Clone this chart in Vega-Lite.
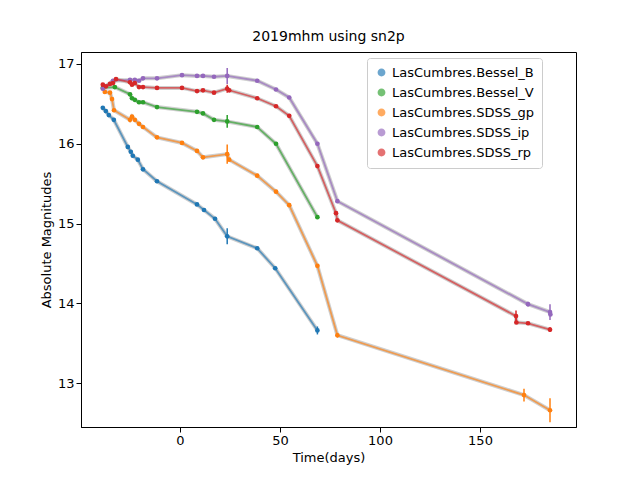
{
  "$schema": "https://vega.github.io/schema/vega-lite/v6.json",
  "width": 495,
  "height": 375,
  "autosize": {"type": "none"},
  "padding": {"left": 81, "top": 52, "right": 64, "bottom": 53},
  "background": "white",
  "title": {"text": "2019mhm using sn2p", "font": "DejaVu Sans", "fontSize": 14, "fontWeight": "normal", "offset": 8},
  "config": {
    "view": {"stroke": "black", "strokeWidth": 1},
    "axis": {"grid": false, "labelFont": "DejaVu Sans", "titleFont": "DejaVu Sans", "labelFontSize": 13, "titleFontSize": 13, "titleFontWeight": "normal", "domainColor": "black", "tickColor": "black", "labelColor": "black", "tickSize": 5}
  },
  "data": {"values": [
    {"f": "LasCumbres.Bessel_B", "t": -38.6, "m": 16.45, "e": 0},
    {"f": "LasCumbres.Bessel_B", "t": -37.1, "m": 16.41, "e": 0},
    {"f": "LasCumbres.Bessel_B", "t": -35.6, "m": 16.36, "e": 0},
    {"f": "LasCumbres.Bessel_B", "t": -33.1, "m": 16.3, "e": 0},
    {"f": "LasCumbres.Bessel_B", "t": -26.1, "m": 15.96, "e": 0},
    {"f": "LasCumbres.Bessel_B", "t": -24.6, "m": 15.9, "e": 0},
    {"f": "LasCumbres.Bessel_B", "t": -23.6, "m": 15.85, "e": 0},
    {"f": "LasCumbres.Bessel_B", "t": -21.1, "m": 15.8, "e": 0},
    {"f": "LasCumbres.Bessel_B", "t": -18.5, "m": 15.68, "e": 0},
    {"f": "LasCumbres.Bessel_B", "t": -11.5, "m": 15.53, "e": 0},
    {"f": "LasCumbres.Bessel_B", "t": 8.5, "m": 15.24, "e": 0},
    {"f": "LasCumbres.Bessel_B", "t": 12, "m": 15.17, "e": 0},
    {"f": "LasCumbres.Bessel_B", "t": 17.5, "m": 15.06, "e": 0},
    {"f": "LasCumbres.Bessel_B", "t": 23.6, "m": 14.84, "e": 0.1},
    {"f": "LasCumbres.Bessel_B", "t": 38.6, "m": 14.69, "e": 0},
    {"f": "LasCumbres.Bessel_B", "t": 47.6, "m": 14.44, "e": 0},
    {"f": "LasCumbres.Bessel_B", "t": 68.7, "m": 13.66, "e": 0.05},
    {"f": "LasCumbres.Bessel_V", "t": -38.6, "m": 16.7, "e": 0},
    {"f": "LasCumbres.Bessel_V", "t": -32.6, "m": 16.71, "e": 0},
    {"f": "LasCumbres.Bessel_V", "t": -25, "m": 16.62, "e": 0},
    {"f": "LasCumbres.Bessel_V", "t": -24, "m": 16.57, "e": 0},
    {"f": "LasCumbres.Bessel_V", "t": -22.6, "m": 16.55, "e": 0},
    {"f": "LasCumbres.Bessel_V", "t": -20.5, "m": 16.52, "e": 0},
    {"f": "LasCumbres.Bessel_V", "t": -18.5, "m": 16.52, "e": 0},
    {"f": "LasCumbres.Bessel_V", "t": -11.5, "m": 16.46, "e": 0},
    {"f": "LasCumbres.Bessel_V", "t": 8.5, "m": 16.4, "e": 0},
    {"f": "LasCumbres.Bessel_V", "t": 11.5, "m": 16.38, "e": 0},
    {"f": "LasCumbres.Bessel_V", "t": 17, "m": 16.3, "e": 0},
    {"f": "LasCumbres.Bessel_V", "t": 23.6, "m": 16.28, "e": 0.08},
    {"f": "LasCumbres.Bessel_V", "t": 38.6, "m": 16.21, "e": 0},
    {"f": "LasCumbres.Bessel_V", "t": 48, "m": 16.0, "e": 0},
    {"f": "LasCumbres.Bessel_V", "t": 68.7, "m": 15.08, "e": 0},
    {"f": "LasCumbres.SDSS_gp", "t": -37.6, "m": 16.65, "e": 0},
    {"f": "LasCumbres.SDSS_gp", "t": -35, "m": 16.64, "e": 0},
    {"f": "LasCumbres.SDSS_gp", "t": -34, "m": 16.56, "e": 0},
    {"f": "LasCumbres.SDSS_gp", "t": -33, "m": 16.42, "e": 0},
    {"f": "LasCumbres.SDSS_gp", "t": -25, "m": 16.3, "e": 0.03},
    {"f": "LasCumbres.SDSS_gp", "t": -24, "m": 16.34, "e": 0},
    {"f": "LasCumbres.SDSS_gp", "t": -22.6, "m": 16.3, "e": 0},
    {"f": "LasCumbres.SDSS_gp", "t": -20.5, "m": 16.25, "e": 0},
    {"f": "LasCumbres.SDSS_gp", "t": -18.5, "m": 16.21, "e": 0},
    {"f": "LasCumbres.SDSS_gp", "t": -11.5, "m": 16.08, "e": 0},
    {"f": "LasCumbres.SDSS_gp", "t": 1, "m": 16.01, "e": 0},
    {"f": "LasCumbres.SDSS_gp", "t": 8.5, "m": 15.91, "e": 0},
    {"f": "LasCumbres.SDSS_gp", "t": 11.5, "m": 15.83, "e": 0},
    {"f": "LasCumbres.SDSS_gp", "t": 23.6, "m": 15.87, "e": 0.12},
    {"f": "LasCumbres.SDSS_gp", "t": 24.6, "m": 15.8, "e": 0},
    {"f": "LasCumbres.SDSS_gp", "t": 38.6, "m": 15.6, "e": 0},
    {"f": "LasCumbres.SDSS_gp", "t": 48, "m": 15.4, "e": 0},
    {"f": "LasCumbres.SDSS_gp", "t": 54.6, "m": 15.23, "e": 0},
    {"f": "LasCumbres.SDSS_gp", "t": 68.7, "m": 14.47, "e": 0},
    {"f": "LasCumbres.SDSS_gp", "t": 78.7, "m": 13.6, "e": 0.03},
    {"f": "LasCumbres.SDSS_gp", "t": 172, "m": 12.85, "e": 0.08},
    {"f": "LasCumbres.SDSS_gp", "t": 185, "m": 12.66, "e": 0.15},
    {"f": "LasCumbres.SDSS_ip", "t": -38.6, "m": 16.69, "e": 0},
    {"f": "LasCumbres.SDSS_ip", "t": -33.5, "m": 16.79, "e": 0},
    {"f": "LasCumbres.SDSS_ip", "t": -25, "m": 16.8, "e": 0},
    {"f": "LasCumbres.SDSS_ip", "t": -22.6, "m": 16.8, "e": 0},
    {"f": "LasCumbres.SDSS_ip", "t": -20.5, "m": 16.79, "e": 0},
    {"f": "LasCumbres.SDSS_ip", "t": -18.5, "m": 16.82, "e": 0},
    {"f": "LasCumbres.SDSS_ip", "t": -11.5, "m": 16.82, "e": 0},
    {"f": "LasCumbres.SDSS_ip", "t": 1, "m": 16.86, "e": 0},
    {"f": "LasCumbres.SDSS_ip", "t": 8.5, "m": 16.85, "e": 0},
    {"f": "LasCumbres.SDSS_ip", "t": 11.5, "m": 16.85, "e": 0},
    {"f": "LasCumbres.SDSS_ip", "t": 17, "m": 16.84, "e": 0},
    {"f": "LasCumbres.SDSS_ip", "t": 23.6, "m": 16.85, "e": 0.1},
    {"f": "LasCumbres.SDSS_ip", "t": 38.6, "m": 16.79, "e": 0},
    {"f": "LasCumbres.SDSS_ip", "t": 48, "m": 16.68, "e": 0},
    {"f": "LasCumbres.SDSS_ip", "t": 54.6, "m": 16.58, "e": 0},
    {"f": "LasCumbres.SDSS_ip", "t": 68.7, "m": 16.0, "e": 0},
    {"f": "LasCumbres.SDSS_ip", "t": 78.7, "m": 15.28, "e": 0},
    {"f": "LasCumbres.SDSS_ip", "t": 174, "m": 13.99, "e": 0.03},
    {"f": "LasCumbres.SDSS_ip", "t": 185, "m": 13.89, "e": 0.1},
    {"f": "LasCumbres.SDSS_ip", "t": 185.2, "m": 13.86, "e": 0},
    {"f": "LasCumbres.SDSS_rp", "t": -38.6, "m": 16.74, "e": 0},
    {"f": "LasCumbres.SDSS_rp", "t": -37, "m": 16.72, "e": 0},
    {"f": "LasCumbres.SDSS_rp", "t": -35, "m": 16.75, "e": 0},
    {"f": "LasCumbres.SDSS_rp", "t": -33.5, "m": 16.76, "e": 0},
    {"f": "LasCumbres.SDSS_rp", "t": -32, "m": 16.81, "e": 0},
    {"f": "LasCumbres.SDSS_rp", "t": -25, "m": 16.77, "e": 0},
    {"f": "LasCumbres.SDSS_rp", "t": -24, "m": 16.74, "e": 0},
    {"f": "LasCumbres.SDSS_rp", "t": -22.6, "m": 16.76, "e": 0},
    {"f": "LasCumbres.SDSS_rp", "t": -20.5, "m": 16.71, "e": 0},
    {"f": "LasCumbres.SDSS_rp", "t": -18.5, "m": 16.71, "e": 0},
    {"f": "LasCumbres.SDSS_rp", "t": -11.5, "m": 16.7, "e": 0},
    {"f": "LasCumbres.SDSS_rp", "t": 1, "m": 16.7, "e": 0},
    {"f": "LasCumbres.SDSS_rp", "t": 8.5, "m": 16.66, "e": 0},
    {"f": "LasCumbres.SDSS_rp", "t": 11.5, "m": 16.67, "e": 0},
    {"f": "LasCumbres.SDSS_rp", "t": 17, "m": 16.64, "e": 0},
    {"f": "LasCumbres.SDSS_rp", "t": 23.6, "m": 16.69, "e": 0.05},
    {"f": "LasCumbres.SDSS_rp", "t": 24.6, "m": 16.67, "e": 0},
    {"f": "LasCumbres.SDSS_rp", "t": 38.6, "m": 16.57, "e": 0},
    {"f": "LasCumbres.SDSS_rp", "t": 48, "m": 16.47, "e": 0},
    {"f": "LasCumbres.SDSS_rp", "t": 54.6, "m": 16.35, "e": 0},
    {"f": "LasCumbres.SDSS_rp", "t": 68.7, "m": 15.72, "e": 0},
    {"f": "LasCumbres.SDSS_rp", "t": 78, "m": 15.13, "e": 0},
    {"f": "LasCumbres.SDSS_rp", "t": 78.7, "m": 15.04, "e": 0},
    {"f": "LasCumbres.SDSS_rp", "t": 168, "m": 13.84, "e": 0.07},
    {"f": "LasCumbres.SDSS_rp", "t": 168.2, "m": 13.76, "e": 0},
    {"f": "LasCumbres.SDSS_rp", "t": 174, "m": 13.75, "e": 0},
    {"f": "LasCumbres.SDSS_rp", "t": 185, "m": 13.67, "e": 0.03}
  ]},
  "encoding": {
    "x": {"field": "t", "type": "quantitative", "title": "Time(days)", "scale": {"domain": [-49.5, 198], "nice": false, "zero": false}, "axis": {"values": [0, 50, 100, 150]}},
    "y": {"field": "m", "type": "quantitative", "title": "Absolute Magnitudes", "scale": {"domain": [12.45, 17.15], "nice": false, "zero": false}, "axis": {"values": [13, 14, 15, 16, 17], "format": "d"}}
  },
  "layer": [
    {
      "mark": {"type": "line", "strokeWidth": 4, "color": "#bbbbbb", "opacity": 0.7},
      "encoding": {"detail": {"field": "f"}}
    },
    {
      "mark": {"type": "line", "strokeWidth": 1.8, "opacity": 0.65},
      "encoding": {"color": {"field": "f", "type": "nominal"}}
    },
    {
      "transform": [{"filter": "datum.e > 0"}],
      "mark": {"type": "errorbar", "thickness": 1.5},
      "encoding": {"yError": {"field": "e"}, "color": {"field": "f", "type": "nominal"}}
    },
    {
      "mark": {"type": "point", "filled": true, "size": 22, "opacity": 1},
      "encoding": {
        "color": {"field": "f", "type": "nominal", "scale": {"range": ["#1f77b4", "#2ca02c", "#ff7f0e", "#9467bd", "#d62728"]}, "legend": {"title": null, "orient": "none", "legendX": 286, "legendY": 6, "labelFont": "DejaVu Sans", "labelFontSize": 13, "symbolType": "circle", "symbolSize": 40, "symbolOpacity": 1, "rowPadding": 6, "padding": 8, "strokeColor": "#cccccc", "fillColor": "white", "cornerRadius": 3, "labelLimit": 300}}
      }
    }
  ]
}
